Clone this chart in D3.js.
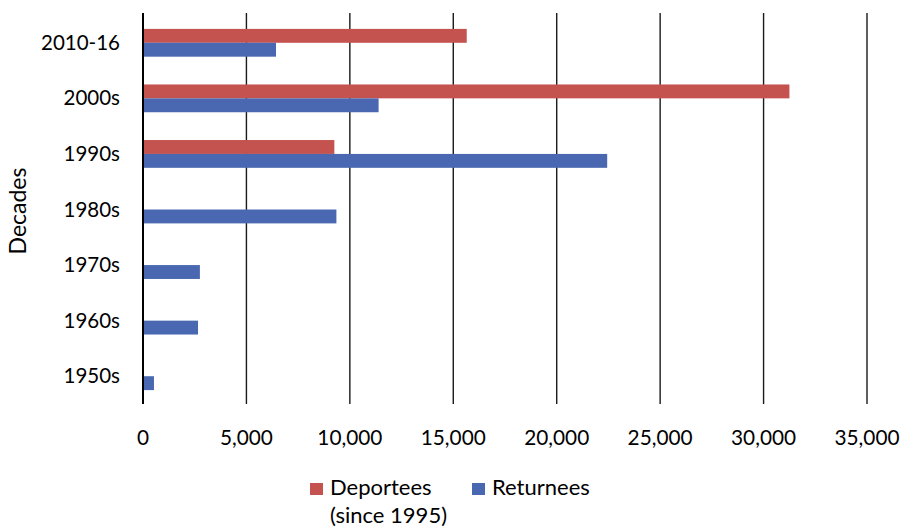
<!DOCTYPE html>
<html>
<head>
<meta charset="utf-8">
<script src="https://cdn.jsdelivr.net/npm/d3@7"></script>
<style>
  body { margin: 0; background: #fff; }
  svg text { font-family: Lato, "Open Sans", sans-serif; fill: #000; }
</style>
</head>
<body>
<svg id="chart" width="903" height="528"></svg>
<script>
const categories = ["2010-16", "2000s", "1990s", "1980s", "1970s", "1960s", "1950s"];
const deportees = [15650, 31250, 9250, null, null, null, null];
const returnees = [6430, 11390, 22440, 9350, 2750, 2660, 530];
const xTicks = [0, 5000, 10000, 15000, 20000, 25000, 30000, 35000];
const seriesNames = ["Deportees", "Returnees"];
const seriesSub = ["(since 1995)", ""];
const colors = ["#C4524F", "#4A68B1"];

const svg = d3.select("#chart");
const mLeft = 143, mRight = 867, mTop = 15, mBottom = 404;

const x = d3.scaleLinear().domain([0, 35000]).range([mLeft, mRight]);
const y = d3.scaleBand().domain(categories).range([mTop, mBottom]).paddingInner(0.5).paddingOuter(0.25);
const ys = d3.scaleBand().domain([0, 1]).range([0, y.bandwidth()]);

// gridlines
svg.append("g").selectAll("line").data(xTicks.slice(1)).join("line")
  .attr("x1", d => x(d)).attr("x2", d => x(d))
  .attr("y1", mTop - 2).attr("y2", mBottom)
  .attr("stroke", "#1a1a1a").attr("stroke-width", 1.4);

// bars
const series = [deportees, returnees];
series.forEach((vals, si) => {
  svg.append("g").selectAll("rect")
    .data(categories.map((c, i) => ({c, v: vals[i]})).filter(d => d.v != null))
    .join("rect")
    .attr("x", x(0))
    .attr("y", d => y(d.c) + ys(si))
    .attr("width", d => x(d.v) - x(0))
    .attr("height", ys.bandwidth())
    .attr("fill", colors[si]);
});

// y axis line
svg.append("line").attr("x1", x(0)).attr("x2", x(0))
  .attr("y1", mTop - 2).attr("y2", mBottom)
  .attr("stroke", "#000").attr("stroke-width", 2);

// x tick labels
const fmt = d3.format(",");
svg.append("g").selectAll("text").data(xTicks).join("text")
  .attr("x", d => x(d)).attr("y", 445)
  .attr("text-anchor", "middle")
  .style("font-size", "20.8px")
  .text(d => fmt(d));

// y labels
svg.append("g").selectAll("text").data(categories).join("text")
  .attr("x", 120).attr("y", d => y(d) + y.bandwidth() / 2 + 7)
  .attr("text-anchor", "end")
  .style("font-size", "20.5px")
  .text(d => d);

// y axis title
svg.append("text")
  .attr("transform", "translate(26,211) rotate(-90)")
  .attr("text-anchor", "middle")
  .style("font-size", "23px")
  .text("Decades");

// legend
const legX = [310, 472];
seriesNames.forEach((n, i) => {
  svg.append("rect").attr("x", legX[i]).attr("y", 483).attr("width", 13).attr("height", 12).attr("fill", colors[i]);
  const t = svg.append("text").attr("x", legX[i] + 20).attr("y", 495).style("font-size", "22px");
  t.append("tspan").attr("x", legX[i] + 20).text(n);
  if (seriesSub[i]) t.append("tspan").attr("x", legX[i] + 20).attr("dy", 28).text(seriesSub[i]);
});
</script>
</body>
</html>
